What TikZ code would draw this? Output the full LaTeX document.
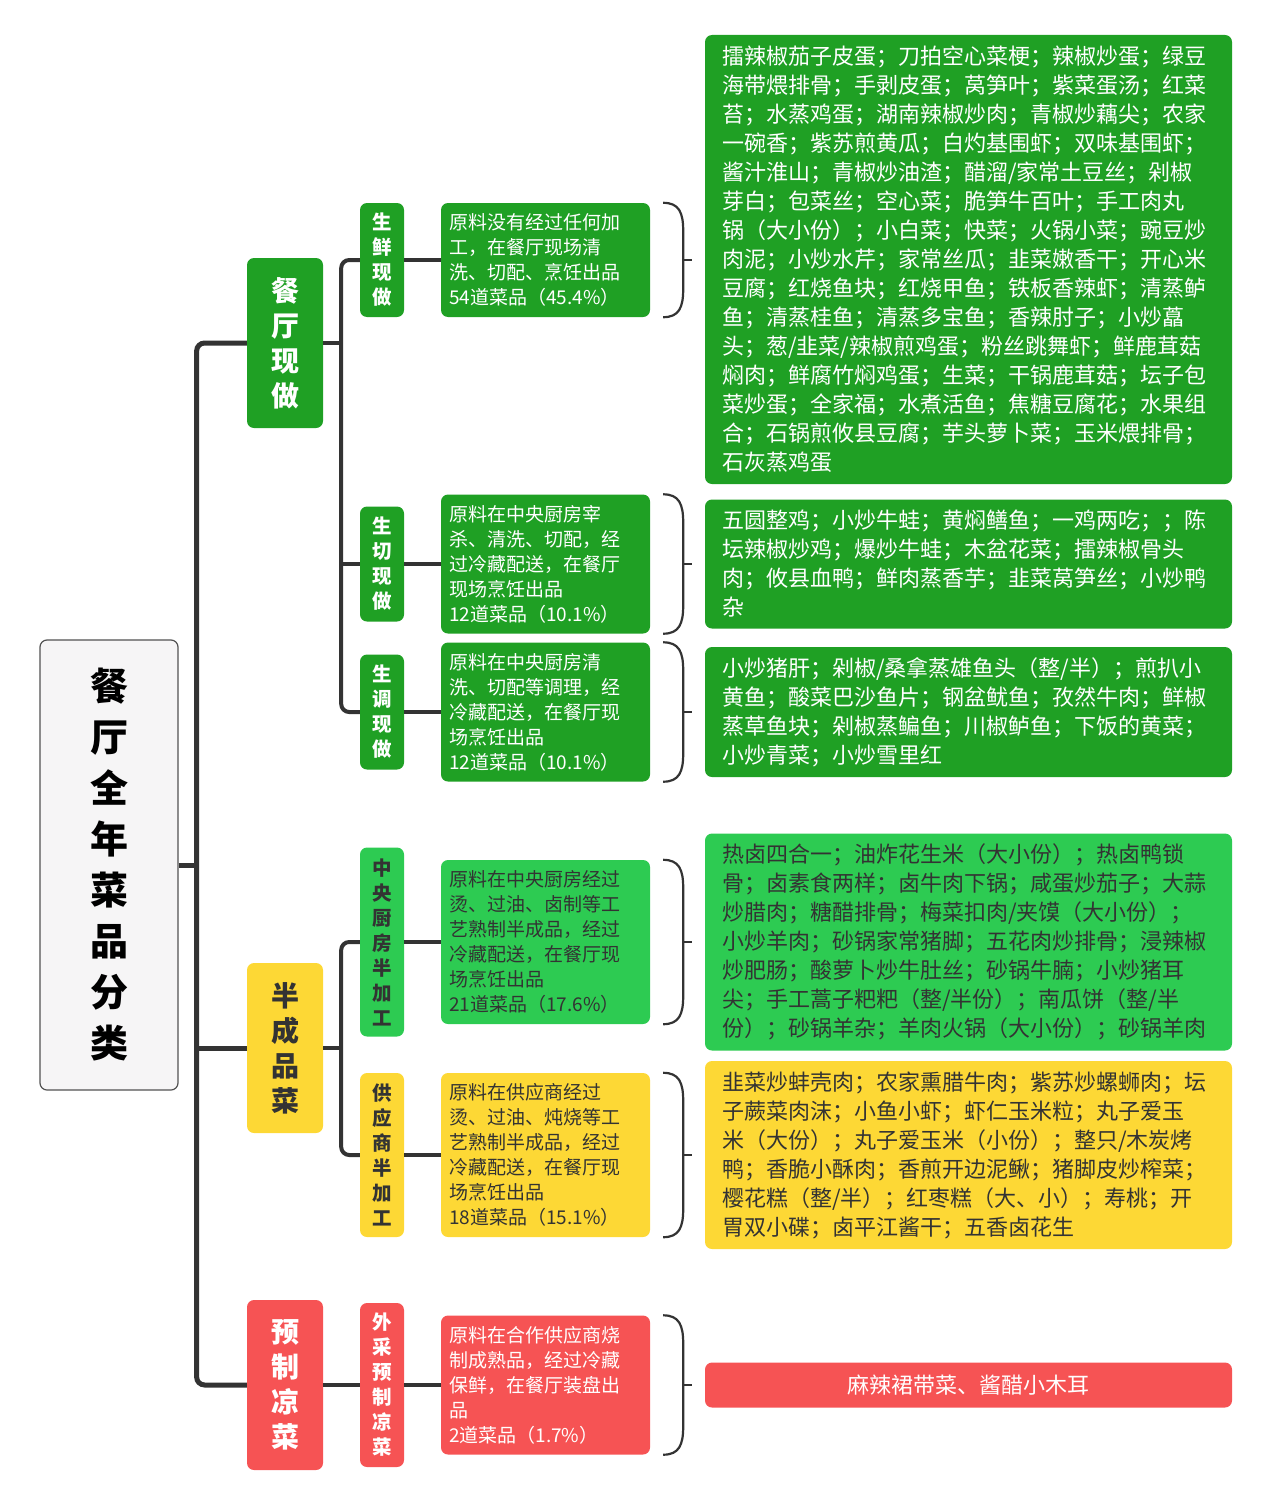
\documentclass[tikz,border=0pt]{standalone}
\usepackage{fontspec}
\setmainfont{Noto Sans CJK SC}
\usetikzlibrary{calc}

\definecolor{deepgreen}{HTML}{1FA024}
\definecolor{lightgreen}{HTML}{2DCB52}
\definecolor{sunyellow}{HTML}{FDD835}
\definecolor{coralred}{HTML}{F65354}
\definecolor{inkgray}{HTML}{333333}
\definecolor{rootfill}{HTML}{F6F5F6}

\begin{document}
\begin{tikzpicture}[x=1pt,y=-1pt,
		box/.style={rounded corners=7pt, inner sep=0pt, align=center},
		greenfill/.style={fill=deepgreen, text=white},
		limefill/.style={fill=lightgreen, text=inkgray},
		yellowfill/.style={fill=sunyellow, text=inkgray},
		redfill/.style={fill=coralred, text=white},
		rootbox/.style={box, draw=inkgray!85, line width=1.2pt, fill=rootfill, minimum width=138pt, minimum height=450pt, font=\bfseries\fontsize{38}{51}\selectfont},
		catbox/.style={box, minimum width=76pt, minimum height=170pt, font=\bfseries\fontsize{28}{35}\selectfont},
		subbox/.style={box, minimum width=44pt, font=\bfseries\fontsize{19.5}{25}\selectfont},
		descbox/.style={box, minimum width=209pt, text width=193pt, align=left, font=\fontsize{19}{25}\selectfont},
		listbox/.style={box, minimum width=527pt, text width=493pt, align=left, font=\fontsize{22}{29}\selectfont},
		stem/.style={draw=inkgray, line width=4pt, rounded corners=8pt},
		bracestroke/.style={draw=inkgray, line width=2.2pt}]
		
		\useasboundingbox (0,0) rectangle (1280,1504);
		
		% Root of the map
		\node[rootbox] (root) at (109,865) {餐\\厅\\全\\年\\菜\\品\\分\\类};
		
		% Set the three categories
		\node[catbox, greenfill] (fresh) at (285,343) {餐\\厅\\现\\做};
		\node[catbox, yellowfill] (semi) at (285,1048) {半\\成\\品\\菜};
		\node[catbox, redfill] (cold) at (285,1385) {预\\制\\凉\\菜};
		
		% Set the sub-categories
		\node[subbox, greenfill, minimum height=114pt] (rawA) at (382,260) {生\\鲜\\现\\做};
		\node[subbox, greenfill, minimum height=115pt] (rawB) at (382,564) {生\\切\\现\\做};
		\node[subbox, greenfill, minimum height=115pt] (rawC) at (382,712) {生\\调\\现\\做};
		\node[subbox, limefill, minimum height=189pt] (halfA) at (382,942) {中\\央\\厨\\房\\半\\加\\工};
		\node[subbox, yellowfill, minimum height=164pt] (halfB) at (382,1155) {供\\应\\商\\半\\加\\工};
		\node[subbox, redfill, minimum height=164pt] (buyA) at (382,1385) {外\\采\\预\\制\\凉\\菜};
		
		% Descriptions
		\node[descbox, greenfill, minimum height=114pt] (descA) at (545.5,260) {原料没有经过任何加\\工，在餐厅现场清\\洗、切配、烹饪出品\\54道菜品（45.4\%）};
		\node[descbox, greenfill, minimum height=139pt] (descB) at (545.5,564) {原料在中央厨房宰\\杀、清洗、切配，经\\过冷藏配送，在餐厅\\现场烹饪出品\\12道菜品（10.1\%）};
		\node[descbox, greenfill, minimum height=139pt] (descC) at (545.5,712) {原料在中央厨房清\\洗、切配等调理，经\\冷藏配送，在餐厅现\\场烹饪出品\\12道菜品（10.1\%）};
		\node[descbox, limefill, minimum height=164pt] (descD) at (545.5,942) {原料在中央厨房经过\\烫、过油、卤制等工\\艺熟制半成品，经过\\冷藏配送，在餐厅现\\场烹饪出品\\21道菜品（17.6\%）};
		\node[descbox, yellowfill, minimum height=164pt] (descE) at (545.5,1155) {原料在供应商经过\\烫、过油、炖烧等工\\艺熟制半成品，经过\\冷藏配送，在餐厅现\\场烹饪出品\\18道菜品（15.1\%）};
		\node[descbox, redfill, minimum height=139pt] (descF) at (545.5,1385) {原料在合作供应商烧\\制成熟品，经过冷藏\\保鲜，在餐厅装盘出\\品\\2道菜品（1.7\%）};
		
		% Dish lists
		\node[listbox, greenfill, minimum height=449pt] (dishA) at (968.5,259.5) {擂辣椒茄子皮蛋；刀拍空心菜梗；辣椒炒蛋；绿豆\\
			海带煨排骨；手剥皮蛋；莴笋叶；紫菜蛋汤；红菜\\
			苔；水蒸鸡蛋；湖南辣椒炒肉；青椒炒藕尖；农家\\
			一碗香；紫苏煎黄瓜；白灼基围虾；双味基围虾；\\
			酱汁淮山；青椒炒油渣；醋溜/家常土豆丝；剁椒\\
			芽白；包菜丝；空心菜；脆笋牛百叶；手工肉丸\\
			锅（大小份）；小白菜；快菜；火锅小菜；豌豆炒\\
			肉泥；小炒水芹；家常丝瓜；韭菜嫩香干；开心米\\
			豆腐；红烧鱼块；红烧甲鱼；铁板香辣虾；清蒸鲈\\
			鱼；清蒸桂鱼；清蒸多宝鱼；香辣肘子；小炒藠\\
			头；葱/韭菜/辣椒煎鸡蛋；粉丝跳舞虾；鲜鹿茸菇\\
			焖肉；鲜腐竹焖鸡蛋；生菜；干锅鹿茸菇；坛子包\\
			菜炒蛋；全家福；水煮活鱼；焦糖豆腐花；水果组\\
			合；石锅煎攸县豆腐；芋头萝卜菜；玉米煨排骨；\\
			石灰蒸鸡蛋};
		\node[listbox, greenfill, minimum height=129pt] (dishB) at (968.5,564) {五圆整鸡；小炒牛蛙；黄焖鳝鱼；一鸡两吃；；陈\\
			坛辣椒炒鸡；爆炒牛蛙；木盆花菜；擂辣椒骨头\\
			肉；攸县血鸭；鲜肉蒸香芋；韭菜莴笋丝；小炒鸭\\
			杂};
		\node[listbox, greenfill, minimum height=130pt] (dishC) at (968.5,712) {小炒猪肝；剁椒/桑拿蒸雄鱼头（整/半）；煎扒小\\
			黄鱼；酸菜巴沙鱼片；钢盆鱿鱼；孜然牛肉；鲜椒\\
			蒸草鱼块；剁椒蒸鳊鱼；川椒鲈鱼；下饭的黄菜；\\
			小炒青菜；小炒雪里红};
		\node[listbox, limefill, minimum height=217pt] (dishD) at (968.5,942) {热卤四合一；油炸花生米（大小份）；热卤鸭锁\\
			骨；卤素食两样；卤牛肉下锅；咸蛋炒茄子；大蒜\\
			炒腊肉；糖醋排骨；梅菜扣肉/夹馍（大小份）；\\
			小炒羊肉；砂锅家常猪脚；五花肉炒排骨；浸辣椒\\
			炒肥肠；酸萝卜炒牛肚丝；砂锅牛腩；小炒猪耳\\
			尖；手工蒿子粑粑（整/半份）；南瓜饼（整/半\\
			份）；砂锅羊杂；羊肉火锅（大小份）；砂锅羊肉};
		\node[listbox, yellowfill, minimum height=188pt] (dishE) at (968.5,1155) {韭菜炒蚌壳肉；农家熏腊牛肉；紫苏炒螺蛳肉；坛\\
			子蕨菜肉沫；小鱼小虾；虾仁玉米粒；丸子爱玉\\
			米（大份）；丸子爱玉米（小份）；整只/木炭烤\\
			鸭；香脆小酥肉；香煎开边泥鳅；猪脚皮炒榨菜；\\
			樱花糕（整/半）；红枣糕（大、小）；寿桃；开\\
			胃双小碟；卤平江酱干；五香卤花生};
		\node[box, redfill, minimum width=527pt, minimum height=45pt, font=\fontsize{22}{29}\selectfont] (dishF) at (968.5,1385) {麻辣裙带菜、酱醋小木耳};
		
		% Connect root with categories
		\coordinate (trunk) at ($(root.east)+(18,0)$);
		\draw[stem, line width=5pt] (fresh.west) -| (trunk) |- (cold.west);
		\draw[stem, line width=5pt] (root.east) -- (trunk);
		\draw[stem, line width=5pt] (semi.west) -- (semi.west -| trunk);
		
		% Connect categories with sub-categories
		\coordinate (hubA) at ($(fresh.east)+(18,0)$);
		\draw[stem] (rawA.west) -| (hubA) |- (rawC.west);
		\draw[stem] (fresh.east) -- (hubA);
		\draw[stem] (rawB.west) -- (rawB.west -| hubA);
		\coordinate (hubB) at ($(semi.east)+(18,0)$);
		\draw[stem] (halfA.west) -| (hubB) |- (halfB.west);
		\draw[stem] (semi.east) -- (hubB);
		\draw[stem] (cold) -- (buyA);
		
		% Sub-categories to descriptions
		\foreach \s/\dn in {rawA/descA,rawB/descB,rawC/descC,halfA/descD,halfB/descE,buyA/descF}
		\draw[stem] (\s) -- (\dn);
		
		% Braces after the descriptions
		\foreach \dn in {descA,descB,descC,descD,descE,descF} {
			\draw[bracestroke] ($(\dn.north east)+(13,0)$) .. controls +(16,0) and +(0,-18) .. ($(\dn.north east)+(33,28)$)
			-- ($(\dn.south east)+(33,-28)$) .. controls +(0,18) and +(16,0) .. ($(\dn.south east)+(13,0)$);
			\draw[bracestroke] ($(\dn.east)+(33,0)$) -- ++(9,0);
		}
		
	\end{tikzpicture}
\end{document}
